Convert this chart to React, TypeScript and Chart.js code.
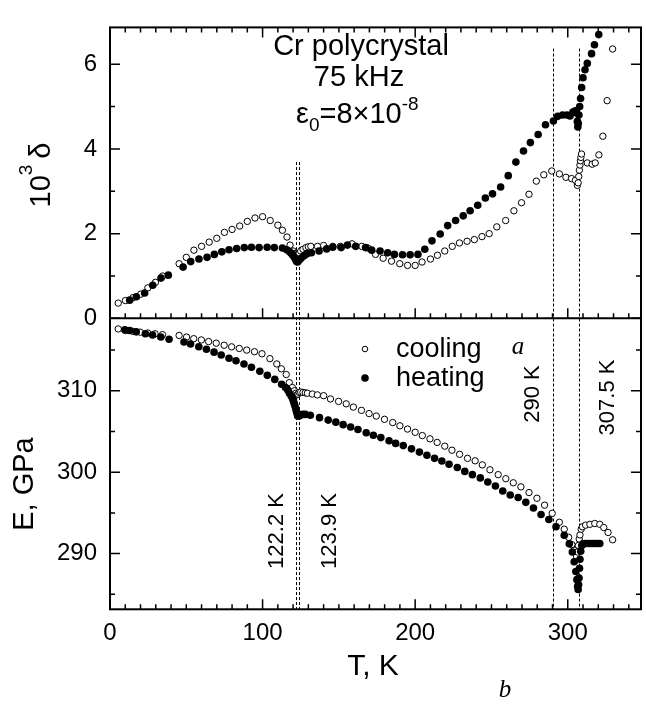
import React, { useEffect, useRef } from "react";
import { Chart, registerables } from "chart.js";

Chart.register(...registerables);

const SANS = "'Liberation Sans', Arial, sans-serif";
const SERIF = "'Liberation Serif', 'Times New Roman', serif";

// ---- data: internal friction (10^3 delta) ----
const coolDeltaT = [5.4, 10.1, 15.1, 20.1, 24.8, 29.8, 34.5,
  45.3, 50, 55, 60, 65, 70, 75, 80, 85, 90,
  95, 100, 105, 110, 113, 116, 118, 120, 121.2, 121.9,
  122.5, 123.2, 124, 125, 126.5, 128.4, 130, 131.6, 136, 140,
  146, 151, 158.6, 165, 169, 174, 179, 184.5, 189.9, 195,
  200, 204.5, 210, 214.6, 219.4, 224.3, 229, 234, 238.8, 243.8,
  248.5, 253.5, 259.3, 264.7, 269.7, 274.6, 279.4, 284.3, 289.5, 294.5,
  298.8, 302.5, 305, 306.3, 306.8, 307.2, 307.6, 308, 308.3, 308.6,
  309, 312.8, 316, 318, 320.4, 323, 325.8, 329.4];
const coolDelta = [0.36, 0.42, 0.49, 0.57, 0.72, 0.85, 1.0,
  1.29, 1.44, 1.61, 1.70, 1.80, 1.89, 2.03, 2.10, 2.18, 2.29,
  2.37, 2.40, 2.31, 2.20, 2.08, 1.92, 1.73, 1.59, 1.53, 1.50,
  1.48, 1.50, 1.54, 1.59, 1.63, 1.67, 1.69, 1.70, 1.70, 1.72,
  1.70, 1.70, 1.76, 1.70, 1.66, 1.51, 1.42, 1.35, 1.29, 1.25,
  1.25, 1.33, 1.40, 1.49, 1.59, 1.70, 1.78, 1.82, 1.86, 1.93,
  2.00, 2.16, 2.31, 2.54, 2.73, 2.93, 3.24, 3.39, 3.48, 3.41,
  3.33, 3.30, 3.26, 3.14, 3.20, 3.35, 3.50, 3.62, 3.72, 3.80,
  3.88, 3.67, 3.64, 3.67, 3.86, 4.30, 5.14, 6.36];

const heatDeltaT = [12.9, 17.3, 22.7, 28, 33.4, 38.2,
  47.9, 52.9, 58.3, 63.6, 68.4, 73.3, 78, 83, 88, 92.7,
  97.7, 103, 107.7, 113, 115.8, 117.5, 118.7, 119.8, 120.8, 121.6,
  122.3, 123, 124, 125.2, 126.8, 128, 129.4, 132, 137, 142,
  146, 151.5, 155.6, 161, 167.5, 171.5, 177, 182, 186.4, 191.7,
  196.7, 201.8, 206.3, 211, 216.4, 221.3, 226.5, 231.5, 236, 241,
  246, 250.7, 256, 261, 266, 271, 275.5, 280.6, 285.4, 290.6,
  293.4, 296.6, 299.5, 301.5, 303.4, 305, 305.8, 306.3, 306.6, 306.9,
  307.3, 307.8, 308.4, 309.1, 310, 311.3, 312.8, 315.6, 317.5, 320.3];
const heatDelta = [0.43, 0.51, 0.60, 0.78, 0.95, 1.02,
  1.21, 1.34, 1.40, 1.44, 1.51, 1.57, 1.62, 1.65, 1.67, 1.68,
  1.67, 1.68, 1.67, 1.66, 1.62, 1.58, 1.54, 1.49, 1.44, 1.39,
  1.34, 1.33, 1.38, 1.42, 1.47, 1.50, 1.53, 1.55, 1.59, 1.64,
  1.68, 1.67, 1.73, 1.70, 1.67, 1.61, 1.59, 1.55, 1.51, 1.50,
  1.50, 1.51, 1.63, 1.83, 1.99, 2.19, 2.31, 2.42, 2.54, 2.67,
  2.84, 2.94, 3.10, 3.37, 3.69, 3.95, 4.15, 4.34, 4.57, 4.66,
  4.77, 4.80, 4.80, 4.78, 4.87, 4.90, 4.85, 4.65, 4.52, 4.60,
  4.80, 5.00, 5.19, 5.45, 5.68, 5.87, 6.02, 6.25, 6.46, 6.70];

// ---- data: Young's modulus E, GPa ----
const coolET = [5.4, 10.2, 15.1, 19.8, 24.7, 29.5, 34.4,
  45.3, 50.2, 54.9, 59.9, 64.6, 69.6, 74.8, 79.7, 84.7, 89.6,
  94.7, 99.6, 104.8, 109.3, 112.3, 115.5, 117.5, 119.5, 120.8, 121.8,
  122.5, 123.2, 124, 125, 126.5, 128, 129.4, 132.6, 135.9, 140,
  144.5, 149.8, 154.8, 159.5, 164.8, 169.8, 174.5, 179.9, 185.3, 190,
  195, 200, 204.7, 209.7, 214.4, 219.4, 224.1, 229.1, 234.3, 239.3,
  244, 249, 254.4, 259.4, 264.3, 269.3, 274.6, 279.8, 284.8, 289.8,
  294.5, 297.7, 300.6, 302.7, 304.2, 305.7, 306.4, 307, 307.5, 308,
  308.8, 309.6, 311.7, 314.5, 317.7, 321, 323.6, 326.4, 329.4];
const coolE = [317.6, 317.4, 317.3, 317.2, 317.1, 317.0, 316.9,
  316.8, 316.6, 316.4, 316.25, 316.05, 315.85, 315.6, 315.4, 315.2, 315.0,
  314.8, 314.55, 313.95, 313.3, 312.7, 312.0, 311.0, 310.4, 310.0, 309.7,
  309.5, 309.6, 309.8, 309.85, 309.8, 309.75, 309.7, 309.6, 309.5, 309.4,
  309.0, 308.7, 308.4, 308.0, 307.6, 307.2, 306.9, 306.5, 306.1, 305.7,
  305.3, 304.9, 304.5, 304.1, 303.66, 303.2, 302.7, 302.2, 301.7, 301.4,
  300.9, 300.3, 299.7, 299.2, 298.7, 298.2, 297.5, 296.8, 295.95, 294.95,
  293.85, 293.0, 292.0, 291.1, 290.4, 289.7, 290.2, 291.0, 291.8, 292.3,
  293.0, 293.3, 293.5, 293.6, 293.7, 293.6, 293.2, 292.6, 291.7];

const heatET = [9.7, 12.9, 17.2, 23.2, 27.9, 33.3, 38.7,
  48.5, 52.8, 58.2, 63.2, 68.2, 72.9, 78, 82.6, 87.8, 92.7,
  98.2, 103.1, 108, 112.5, 115, 116.5, 117.6, 118.7, 119.3, 119.8,
  120.3, 120.8, 121.3, 121.8, 122.2, 122.6, 123, 124, 125, 126.5,
  128, 131.3, 137.3, 143, 148, 152.8, 157.7, 162.5, 167.9, 172.6,
  177.5, 182.9, 187.2, 192.2, 197.6, 202.8, 207.7, 212.7, 217.5, 222.2,
  227.6, 232.5, 237.5, 242.7, 247.6, 252.6, 257.4, 262.3, 267.5, 272.5,
  277.5, 282.5, 287.6, 292.3, 297.7, 301, 303, 304.2, 305.3, 306,
  306.5, 306.8, 307.1, 307.4, 307.7, 308, 308.5, 309.2, 310, 311.7,
  313.5, 315, 316.5, 318, 319.5, 321];
const heatE = [317.5, 317.4, 317.24, 317.0, 316.85, 316.6, 316.33,
  316.0, 315.74, 315.42, 315.1, 314.75, 314.4, 314.0, 313.7, 313.3, 312.9,
  312.4, 311.9, 311.4, 310.8, 310.4, 310.1, 309.7, 309.4, 309.2, 309.0,
  308.7, 308.4, 308.1, 307.8, 307.5, 307.2, 306.9, 306.9, 307.05, 307.1,
  307.1, 307.0, 306.7, 306.4, 306.15, 305.84, 305.56, 305.25, 304.85, 304.54,
  304.25, 303.86, 303.54, 303.27, 302.87, 302.47, 302.08, 301.7, 301.37, 300.97,
  300.57, 300.1, 299.7, 299.3, 298.79, 298.3, 297.7, 297.2, 296.9, 296.3,
  295.6, 294.8, 294.2, 293.3, 292.26, 291.2, 290.2, 289.0, 287.8, 286.8,
  286.0, 285.6, 286.2, 287.0, 288.2, 289.3, 290.3, 291.0, 291.2, 291.25,
  291.25, 291.25, 291.25, 291.25, 291.25, 291.25];

// ---- transition markers ----
const markerT = [122.2, 123.9, 290, 307.5];
const markerTopDelta = [3.69, 3.69, 6.37, 6.37];
const markerLabels = ["122.2 K", "123.9 K", "290 K", "307.5 K"];

// ---- axis ranges / ticks ----
const T_RANGE = [0, 348];
const DELTA_RANGE = [0, 6.87];
const E_RANGE = [283.16, 318.9];
const T_STEP = 10, T_LABEL_STEP = 100;
const DELTA_STEP = 1, DELTA_LABEL_STEP = 2;
const E_STEP = 5, E_LABEL_STEP = 10;

const pts = (xs: number[], ys: number[]) => xs.map((x, i) => ({ x, y: ys[i] }));

function text(ctx: CanvasRenderingContext2D, s: string, x: number, y: number, font: string,
  align: CanvasTextAlign = "center", base: CanvasTextBaseline = "alphabetic") {
  ctx.font = font;
  ctx.textAlign = align;
  ctx.textBaseline = base;
  ctx.fillText(s, x, y);
}

function rotText(ctx: CanvasRenderingContext2D, s: string, x: number, y: number, font: string) {
  ctx.save();
  ctx.translate(x, y);
  ctx.rotate(-Math.PI / 2);
  text(ctx, s, 0, 0, font, "center", "middle");
  ctx.restore();
}

const overlay = {
  id: "overlay",
  beforeDatasetsDraw(chart: any) {
    const ctx = chart.ctx as CanvasRenderingContext2D;
    const xs = chart.scales.x, yD = chart.scales.yD, yE = chart.scales.yE;
    ctx.save();
    ctx.strokeStyle = "#000";
    ctx.lineWidth = 1;
    ctx.setLineDash([3, 2]);
    markerT.forEach((t, i) => {
      const px = Math.round(xs.getPixelForValue(t)) + 0.5;
      ctx.beginPath();
      ctx.moveTo(px, yD.getPixelForValue(markerTopDelta[i]));
      ctx.lineTo(px, yE.bottom);
      ctx.stroke();
    });
    ctx.restore();
  },
  afterDatasetsDraw(chart: any) {
    const ctx = chart.ctx as CanvasRenderingContext2D;
    const xs = chart.scales.x, yD = chart.scales.yD, yE = chart.scales.yE;
    const L = xs.left, R = xs.right;
    ctx.save();
    ctx.strokeStyle = "#000";
    ctx.fillStyle = "#000";
    // ticks
    ctx.lineWidth = 1.5;
    ctx.beginPath();
    xs.ticks.forEach((t: any) => {
      const px = xs.getPixelForValue(t.value);
      const len = t.value % T_LABEL_STEP === 0 ? 10 : 5;
      ctx.moveTo(px, yD.top); ctx.lineTo(px, yD.top + len);
      ctx.moveTo(px, yD.bottom); ctx.lineTo(px, yD.bottom - len);
      ctx.moveTo(px, yE.bottom); ctx.lineTo(px, yE.bottom - len);
    });
    yD.ticks.forEach((t: any) => {
      const py = yD.getPixelForValue(t.value);
      const len = Math.abs(t.value % DELTA_LABEL_STEP) < 1e-6 ? 10 : 5;
      ctx.moveTo(L, py); ctx.lineTo(L + len, py);
      ctx.moveTo(R, py); ctx.lineTo(R - len, py);
    });
    yE.ticks.forEach((t: any) => {
      const py = yE.getPixelForValue(t.value);
      const len = t.value % E_LABEL_STEP === 0 ? 10 : 5;
      ctx.moveTo(L, py); ctx.lineTo(L + len, py);
      ctx.moveTo(R, py); ctx.lineTo(R - len, py);
    });
    ctx.stroke();
    // frames
    ctx.lineWidth = 2;
    ctx.strokeRect(L, yD.top, R - L, yE.bottom - yD.top);
    ctx.beginPath();
    ctx.moveTo(L, yD.bottom); ctx.lineTo(R, yD.bottom);
    ctx.stroke();

    // axis titles
    ctx.save();
    ctx.translate(40, 175);
    ctx.rotate(-Math.PI / 2);
    ctx.font = `29px ${SANS}`;
    ctx.textBaseline = "alphabetic";
    ctx.textAlign = "left";
    const w10 = ctx.measureText("10").width;
    ctx.font = `19px ${SANS}`;
    const w3 = ctx.measureText("3").width;
    ctx.font = `29px ${SANS}`;
    const wd = ctx.measureText("δ").width;
    const tot = w10 + w3 + 6 + wd;
    let cx = -tot / 2;
    ctx.fillText("10", cx, 10); cx += w10;
    ctx.font = `19px ${SANS}`;
    ctx.fillText("3", cx, -8); cx += w3 + 6;
    ctx.font = `29px ${SANS}`;
    ctx.fillText("δ", cx, 10);
    ctx.restore();

    rotText(ctx, "E, GPa", 25, 484, `29px ${SANS}`);
    text(ctx, "T, K", 373, 667, `30px ${SANS}`, "center", "middle");

    // annotation block
    text(ctx, "Cr polycrystal", 361, 55, `29px ${SANS}`);
    text(ctx, "75 kHz", 359, 86, `29px ${SANS}`);
    {
      let x = 296;
      const base = 123;
      ctx.textAlign = "left";
      ctx.textBaseline = "alphabetic";
      ctx.font = `29px ${SANS}`;
      ctx.fillText("ε", x, base); x += ctx.measureText("ε").width;
      ctx.font = `19px ${SANS}`;
      ctx.fillText("0", x, base + 8); x += ctx.measureText("0").width;
      ctx.font = `29px ${SANS}`;
      ctx.fillText("=8×10", x, base); x += ctx.measureText("=8×10").width;
      ctx.font = `19px ${SANS}`;
      ctx.fillText("-8", x, base - 13);
    }

    // legend
    ctx.lineWidth = 1;
    ctx.beginPath();
    ctx.arc(365, 349, 2.8, 0, Math.PI * 2);
    ctx.stroke();
    ctx.beginPath();
    ctx.arc(365, 378, 3.8, 0, Math.PI * 2);
    ctx.fill();
    text(ctx, "cooling", 396, 357, `27px ${SANS}`, "left");
    text(ctx, "heating", 396, 386, `27px ${SANS}`, "left");

    // panel letters
    text(ctx, "a", 518, 347, `italic 25px ${SERIF}`, "center", "middle");
    text(ctx, "b", 505, 690, `italic 25px ${SERIF}`, "center", "middle");

    // transition labels
    const lblPos = [[276.7, 531], [330, 531], [533, 394], [608, 397.5]];
    markerLabels.forEach((s, i) => rotText(ctx, s, lblPos[i][0], lblPos[i][1], `22px ${SANS}`));
    ctx.restore();
  },
};

export default function App() {
  const ref = useRef<HTMLCanvasElement | null>(null);
  useEffect(() => {
    if (!ref.current) return;
    const tickFont = { family: SANS, size: 24 };
    const noGrid = { display: false, drawTicks: false, tickLength: 0 };
    const chart = new Chart(ref.current, {
      type: "scatter",
      data: {
        datasets: [
          { label: "heating", data: pts(heatDeltaT, heatDelta), yAxisID: "yD",
            pointRadius: 3.8, pointBackgroundColor: "#000", pointBorderWidth: 0, showLine: false },
          { label: "cooling", data: pts(coolDeltaT, coolDelta), yAxisID: "yD",
            pointRadius: 3.2, pointBackgroundColor: "#fff", pointBorderColor: "#000", pointBorderWidth: 1, showLine: false },
          { label: "heating E", data: pts(heatET, heatE), yAxisID: "yE",
            pointRadius: 3.8, pointBackgroundColor: "#000", pointBorderWidth: 0, showLine: false },
          { label: "cooling E", data: pts(coolET, coolE), yAxisID: "yE",
            pointRadius: 3.2, pointBackgroundColor: "#fff", pointBorderColor: "#000", pointBorderWidth: 1, showLine: false },
        ],
      },
      options: {
        responsive: false,
        animation: false,
        devicePixelRatio: 1,
        layout: { padding: { top: 6, right: 1, bottom: 0, left: 0 } },
        plugins: { legend: { display: false }, tooltip: { enabled: false } },
        scales: {
          x: {
            type: "linear", position: "bottom", min: T_RANGE[0], max: T_RANGE[1],
            afterFit: (s: any) => { s.height = 94.7; },
            grid: noGrid, border: { display: false },
            ticks: { stepSize: T_STEP, autoSkip: false, maxRotation: 0, includeBounds: false,
              padding: 10, color: "#000", font: tickFont,
              callback: (v: any) => (Number(v) % T_LABEL_STEP === 0 ? String(v) : "") },
          },
          yD: {
            type: "linear", position: "left", stack: "panels", stackWeight: 1, weight: 2,
            min: DELTA_RANGE[0], max: DELTA_RANGE[1],
            afterFit: (s: any) => { s.width = 110; },
            grid: noGrid, border: { display: false },
            ticks: { stepSize: DELTA_STEP, autoSkip: false, includeBounds: false,
              padding: 13, color: "#000", font: tickFont,
              callback: (v: any) => (Math.abs(Number(v) % DELTA_LABEL_STEP) < 1e-6 ? String(v) : "") },
          },
          yE: {
            type: "linear", position: "left", stack: "panels", stackWeight: 1, weight: 1,
            min: E_RANGE[0], max: E_RANGE[1],
            afterFit: (s: any) => { s.width = 110; },
            grid: noGrid, border: { display: false },
            ticks: { stepSize: E_STEP, autoSkip: false, includeBounds: false,
              padding: 13, color: "#000", font: tickFont,
              callback: (v: any) => (Number(v) % E_LABEL_STEP === 0 ? String(v) : "") },
          },
        },
      } as any,
      plugins: [overlay],
    });
    return () => chart.destroy();
  }, []);
  return (
    <div style={{ position: "fixed", left: 0, top: 0, width: 646, height: 704, background: "#fff" }}>
      <canvas ref={ref} width={646} height={704} style={{ width: 646, height: 704, display: "block" }} />
    </div>
  );
}
